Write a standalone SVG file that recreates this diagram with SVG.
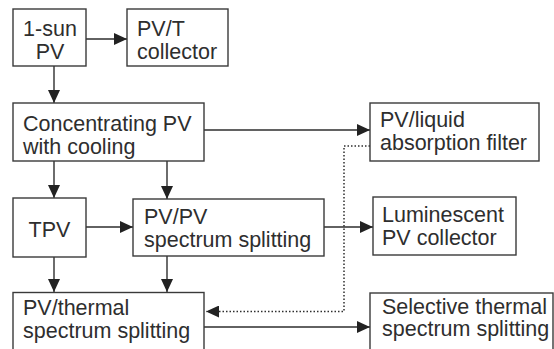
<svg xmlns="http://www.w3.org/2000/svg" width="554" height="349" viewBox="0 0 554 349">
<style>
.box{fill:#fff;stroke:#3a3a3a;stroke-width:1.4}
.t{font-family:"Liberation Sans",Arial,sans-serif;font-size:21.5px;fill:#2e2e2e}
.c{text-anchor:middle}
.ln{fill:none;stroke:#2e2e2e;stroke-width:1.4}
.dot{fill:none;stroke:#2e2e2e;stroke-width:1.5;stroke-dasharray:1.5 2}
</style>
<defs>
<marker id="ah" markerUnits="userSpaceOnUse" markerWidth="14" markerHeight="12" refX="13" refY="6" orient="auto">
<path d="M0,0 L13,6 L0,12 z" fill="#222" stroke="none"/>
</marker>
</defs>
<rect width="554" height="349" fill="#fff"/>
<g id="connectors">
<line class="ln" x1="86" y1="39" x2="127" y2="39" marker-end="url(#ah)"/>
<line class="ln" x1="54" y1="66" x2="54" y2="103" marker-end="url(#ah)"/>
<line class="ln" x1="204" y1="130" x2="370" y2="130" marker-end="url(#ah)"/>
<line class="ln" x1="54" y1="161" x2="54" y2="198" marker-end="url(#ah)"/>
<line class="ln" x1="167" y1="161" x2="167" y2="199" marker-end="url(#ah)"/>
<line class="ln" x1="86" y1="227" x2="133" y2="227" marker-end="url(#ah)"/>
<line class="ln" x1="324" y1="227" x2="373" y2="227" marker-end="url(#ah)"/>
<line class="ln" x1="54" y1="257" x2="54" y2="292" marker-end="url(#ah)"/>
<line class="ln" x1="167" y1="256" x2="167" y2="292" marker-end="url(#ah)"/>
<line class="ln" x1="204" y1="327" x2="370" y2="327" marker-end="url(#ah)"/>
<path class="dot" d="M370,146 H344 V311.5 H206" marker-end="url(#ah)"/>
</g>
<g id="n-1sun">
<rect class="box" x="13" y="9" width="73" height="57"/>
<text class="t c" x="50" y="35.5">1-sun</text>
<text class="t c" x="50" y="58.5">PV</text>
</g>
<g id="n-pvt">
<rect class="box" x="127" y="9" width="101" height="57"/>
<text class="t" x="137" y="35.5">PV/T</text>
<text class="t" x="137" y="58.5">collector</text>
</g>
<g id="n-cpv">
<rect class="box" x="13" y="103" width="191" height="58"/>
<text class="t" x="23" y="131">Concentrating PV</text>
<text class="t" x="23" y="153.5">with cooling</text>
</g>
<g id="n-pvliquid">
<rect class="box" x="370" y="103" width="169" height="58"/>
<text class="t" x="380" y="127">PV/liquid</text>
<text class="t" x="380" y="150">absorption filter</text>
</g>
<g id="n-tpv">
<rect class="box" x="13" y="198" width="73" height="59"/>
<text class="t c" x="49.5" y="237">TPV</text>
</g>
<g id="n-pvpv">
<rect class="box" x="133" y="199" width="191" height="57"/>
<text class="t" x="144" y="224">PV/PV</text>
<text class="t" x="144" y="247">spectrum splitting</text>
</g>
<g id="n-lum">
<rect class="box" x="373" y="197" width="143" height="58"/>
<text class="t" x="382" y="222">Luminescent</text>
<text class="t" x="382" y="245">PV collector</text>
</g>
<g id="n-pvthermal">
<rect class="box" x="13" y="292.5" width="191" height="70"/>
<text class="t" x="23" y="315">PV/thermal</text>
<text class="t" x="23" y="338">spectrum splitting</text>
</g>
<g id="n-selective">
<rect class="box" x="370" y="293" width="183" height="70"/>
<text class="t" x="382" y="313.5">Selective thermal</text>
<text class="t" x="382" y="336">spectrum splitting</text>
</g>
</svg>
